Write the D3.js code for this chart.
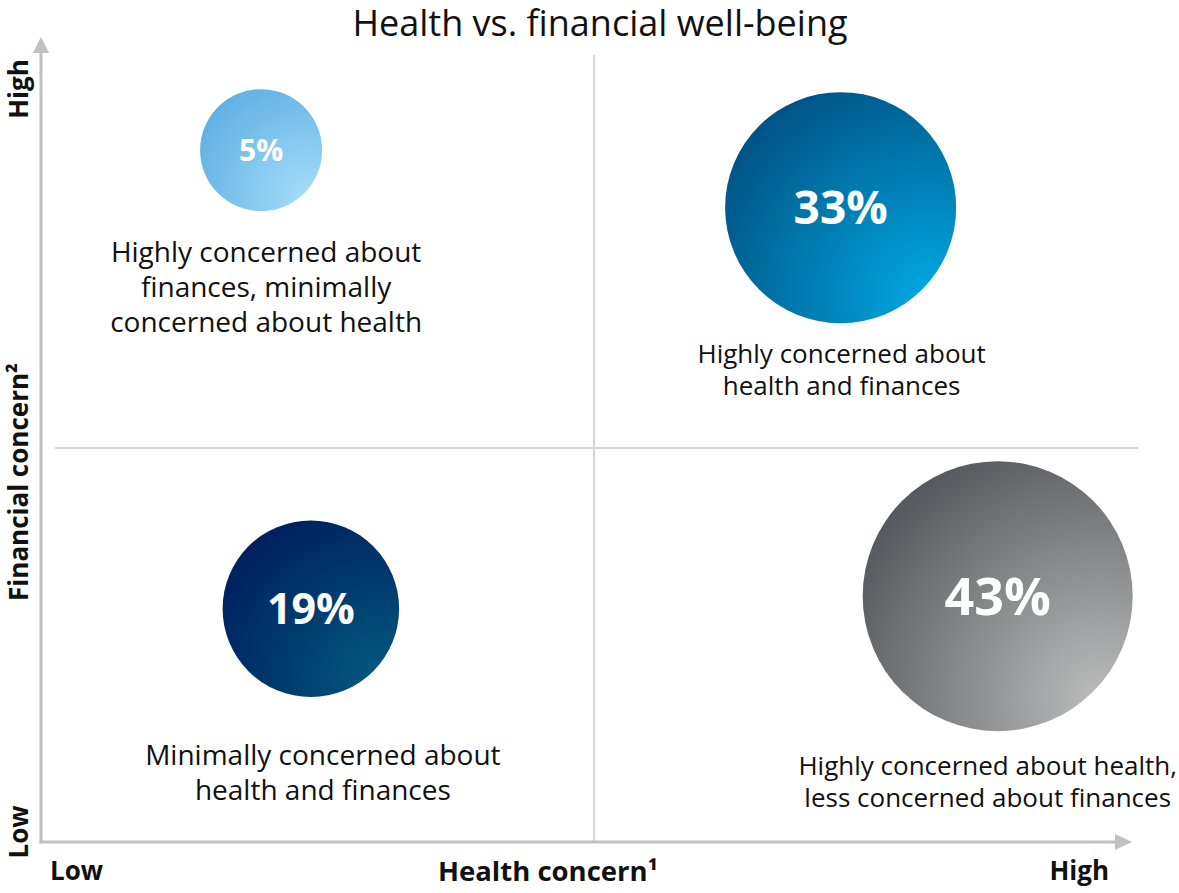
<!DOCTYPE html>
<html>
<head>
<meta charset="utf-8">
<script src="https://cdn.jsdelivr.net/npm/d3@7"></script>
<style>
  html, body { margin: 0; padding: 0; background: #fff; }
  svg { display: block; font-family: "Open Sans", sans-serif; }
</style>
</head>
<body>
<svg id="chart" width="1179" height="893"></svg>
<script>
// Segment shares and their place on the two concern axes (0 = low, 10 = high)
const segmentKeys = ["financeOnly", "both", "neither", "healthOnly"];
const shares = [5, 33, 19, 43];
const healthConcern = [1.99, 7.23, 2.44, 8.65];
const financialConcern = [8.78, 8.05, 2.96, 3.12];
const segmentLabels = [
  ["Highly concerned about", "finances, minimally", "concerned about health"],
  ["Highly concerned about", "health and finances"],
  ["Minimally concerned about", "health and finances"],
  ["Highly concerned about health,", "less concerned about finances"]
];
const axisEnds = ["Low", "High"];
const xTitle = "Health concern¹";
const yTitle = "Financial concern²";
const chartTitle = "Health vs. financial well-being";

// Styling per segment (gradient stops: light centre, dark rim) and label placement
const bubbleStyle = [
  { light: "#a6dcfa", dark: "#5fb0e2", font: 30, textSize: 28, dx: 5, dy: 112, lh: 35 },
  { light: "#00a8e2", dark: "#005284", font: 46, textSize: 26, dx: 1, dy: 155, lh: 32 },
  { light: "#00597f", dark: "#001f5e", font: 43, textSize: 28, dx: 12, dy: 156, lh: 35 },
  { light: "#bcbcbc", dark: "#54575b", font: 52, textSize: 26, dx: -10, dy: 179, lh: 32 }
];

const svg = d3.select("#chart");
const x = d3.scaleLinear().domain([0, 10]).range([41, 1147]);
const y = d3.scaleLinear().domain([0, 10]).range([842, 54]);
const r = d3.scaleLinear().domain([5, 43]).range([61, 135]);

// Gradients
const defs = svg.append("defs");
segmentKeys.forEach((k, i) => {
  const g = defs.append("radialGradient")
    .attr("id", "grad-" + k)
    .attr("cx", 0.88).attr("cy", 0.88).attr("r", 1.05)
    .attr("fx", 0.88).attr("fy", 0.88);
  g.append("stop").attr("offset", 0).attr("stop-color", bubbleStyle[i].light);
  g.append("stop").attr("offset", 1).attr("stop-color", bubbleStyle[i].dark);
});

// Title
svg.append("text")
  .attr("x", 600).attr("y", 36)
  .attr("text-anchor", "middle")
  .attr("font-size", 36)
  .attr("fill", "#111")
  .text(chartTitle);

// Quadrant dividers
svg.append("line")
  .attr("x1", x(5)).attr("x2", x(5))
  .attr("y1", 55).attr("y2", y(0))
  .attr("stroke", "#d6d6d6").attr("stroke-width", 2);
svg.append("line")
  .attr("x1", 55).attr("x2", 1138)
  .attr("y1", y(5)).attr("y2", y(5))
  .attr("stroke", "#d6d6d6").attr("stroke-width", 2);

// Axes with arrow heads
const axisColor = "#c0c0c0";
svg.append("line")
  .attr("x1", x(0)).attr("x2", x(0))
  .attr("y1", y(0) + 1.5).attr("y2", 50)
  .attr("stroke", axisColor).attr("stroke-width", 3);
svg.append("path")
  .attr("d", `M${x(0) - 8},53 L${x(0)},37 L${x(0) + 8},53 Z`)
  .attr("fill", axisColor);
svg.append("line")
  .attr("x1", x(0) - 1.5).attr("x2", 1118)
  .attr("y1", y(0)).attr("y2", y(0))
  .attr("stroke", axisColor).attr("stroke-width", 3);
svg.append("path")
  .attr("d", `M1115,${y(0) - 8} L1132,${y(0)} L1115,${y(0) + 8} Z`)
  .attr("fill", axisColor);

// Axis end labels and titles
const axisText = svg.append("g")
  .attr("font-weight", 700)
  .attr("font-size", 26)
  .attr("fill", "#111");
axisText.append("text").attr("x", 50).attr("y", 880).text(axisEnds[0]);
axisText.append("text").attr("x", 1109).attr("y", 880)
  .attr("text-anchor", "end").text(axisEnds[1]);
axisText.append("text").attr("x", 548).attr("y", 881)
  .attr("font-size", 27.5)
  .attr("text-anchor", "middle").text(xTitle);
axisText.append("text")
  .attr("transform", "translate(28,832) rotate(-90)")
  .attr("text-anchor", "middle").text(axisEnds[0]);
axisText.append("text")
  .attr("transform", "translate(28,89) rotate(-90)")
  .attr("text-anchor", "middle").text(axisEnds[1]);
axisText.append("text")
  .attr("transform", "translate(28,482) rotate(-90)")
  .attr("text-anchor", "middle").text(yTitle);

// Bubbles
const segs = segmentKeys.map((k, i) => ({
  key: k, share: shares[i], hx: healthConcern[i], fy: financialConcern[i],
  lines: segmentLabels[i], style: bubbleStyle[i]
}));

const node = svg.selectAll("g.segment")
  .data(segs)
  .join("g")
  .attr("class", "segment")
  .attr("transform", d => `translate(${x(d.hx)},${y(d.fy)})`);

node.append("circle")
  .attr("r", d => r(d.share))
  .attr("fill", d => `url(#grad-${d.key})`);

node.append("text")
  .attr("text-anchor", "middle")
  .attr("y", d => d.style.font * 0.357)
  .attr("font-size", d => d.style.font)
  .attr("font-weight", 700)
  .attr("fill", "#fff")
  .text(d => d.share + "%");

// Segment descriptions
node.append("text")
  .attr("text-anchor", "middle")
  .attr("font-size", d => d.style.textSize)
  .attr("fill", "#111")
  .each(function (d) {
    d3.select(this).selectAll("tspan")
      .data(d.lines)
      .join("tspan")
      .attr("x", d.style.dx)
      .attr("y", (t, j) => d.style.dy + j * d.style.lh)
      .text(t => t);
  });
</script>
</body>
</html>
